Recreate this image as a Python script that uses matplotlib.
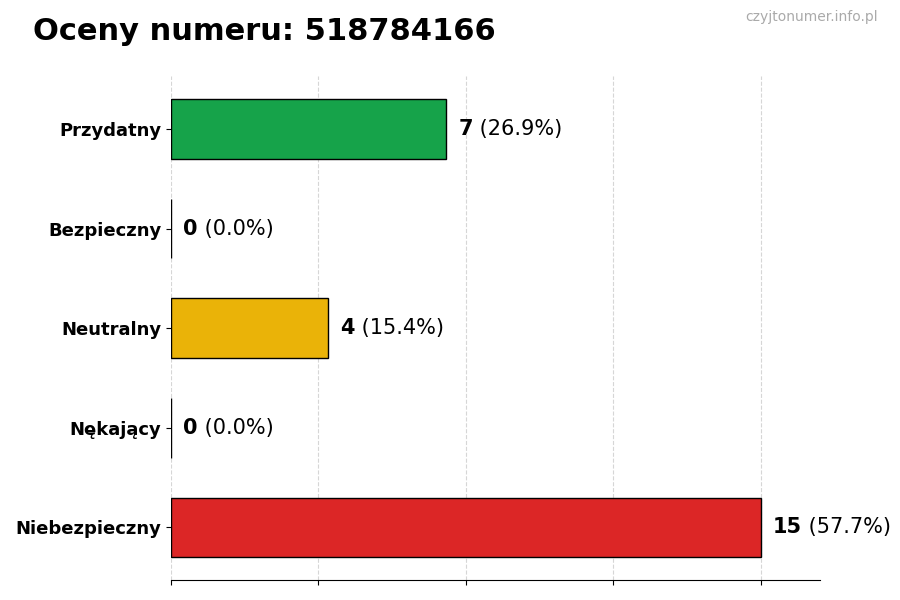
import matplotlib

matplotlib.use("Agg")

import matplotlib.pyplot as plt
import numpy as np

NUMBER = "518784166"
CATEGORIES = ["Przydatny", "Bezpieczny", "Neutralny", "Nękający", "Niebezpieczny"]
COUNTS = [7, 0, 4, 0, 15]
COLORS = ["#16a34a", "#22c55e", "#eab308", "#f97316", "#dc2626"]

plt.rcParams["font.family"] = ["DejaVu Sans"]

fig = plt.figure(figsize=(9, 6), dpi=100)
ax = fig.add_axes([0.19, 0.033, 0.721, 0.84])

total = sum(COUNTS)
y = np.arange(len(CATEGORIES))
ax.barh(y, COUNTS, height=0.6, color=COLORS, edgecolor="black", linewidth=1.0, zorder=2)
ax.invert_yaxis()

max_val = max(COUNTS)
ax.set_xlim(0, max_val * 1.1)
ax.set_xticks(np.linspace(0, max_val, 5))
ax.set_xticklabels([])
ax.set_yticks(y)
ax.set_yticklabels(CATEGORIES, fontsize=13, fontweight="bold")
ax.grid(axis="x", linestyle="--", color="#cccccc", alpha=0.8, zorder=3)

for side in ["top", "right", "left"]:
    ax.spines[side].set_visible(False)

# bold count followed by the share in regular weight
for pos, val in zip(y, COUNTS):
    pct = val / total * 100
    t = ax.text(val + 0.31, pos, f"{val}", fontsize=15, fontweight="bold", va="center", ha="left")
    ax.annotate(f" ({pct:.1f}%)", xy=(1, 0.5), xycoords=t, fontsize=15, va="center", ha="left")

fig.text(0.037, 0.947, f"Oceny numeru: {NUMBER}", fontsize=22, fontweight="bold", ha="left", va="center")
fig.text(0.975, 0.971, "czyjtonumer.info.pl", fontsize=10, color="#aaaaaa", ha="right", va="center")

fig.savefig("out.png", dpi=100, facecolor="white")
